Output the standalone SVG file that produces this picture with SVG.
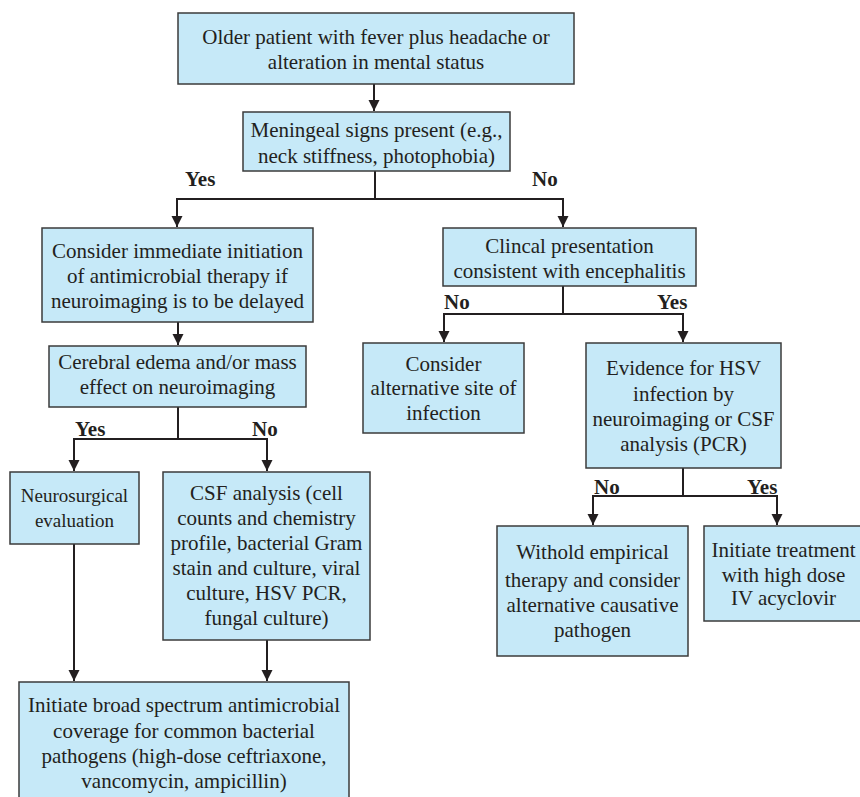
<svg xmlns="http://www.w3.org/2000/svg" width="860" height="797" viewBox="0 0 860 797">
<defs>
<marker id="ah" markerUnits="userSpaceOnUse" markerWidth="12" markerHeight="12" refX="11" refY="6" orient="auto">
<path d="M0,0.5 L11,6 L0,11.5 z" fill="#231f20"/>
</marker>
<style>
.box{fill:#c6e9f8;stroke:#3b3b3b;stroke-width:1.5}
.t{font-family:"Liberation Serif","Times New Roman",serif;font-size:21px;fill:#231f20;text-anchor:middle}
.s{font-size:19px}
.lbl{font-family:"Liberation Serif","Times New Roman",serif;font-size:21px;font-weight:bold;fill:#231f20}
.c{fill:none;stroke:#231f20;stroke-width:2}
</style>
</defs>
<rect width="860" height="797" fill="#ffffff"/>

<g id="connectors">
<path class="c" d="M374,84 V111" marker-end="url(#ah)"/>
<path class="c" d="M375,171 V199"/>
<path class="c" d="M177,199 H563"/>
<path class="c" d="M177,198 V227" marker-end="url(#ah)"/>
<path class="c" d="M563,198 V227" marker-end="url(#ah)"/>
<path class="c" d="M178,322 V345" marker-end="url(#ah)"/>
<path class="c" d="M178,407 V439"/>
<path class="c" d="M74,439 H267"/>
<path class="c" d="M74,438 V471" marker-end="url(#ah)"/>
<path class="c" d="M267,438 V471" marker-end="url(#ah)"/>
<path class="c" d="M74,544 V681" marker-end="url(#ah)"/>
<path class="c" d="M267,640 V681" marker-end="url(#ah)"/>
<path class="c" d="M563,286 V314"/>
<path class="c" d="M444,314 H683"/>
<path class="c" d="M444,313 V342" marker-end="url(#ah)"/>
<path class="c" d="M683,313 V342" marker-end="url(#ah)"/>
<path class="c" d="M683,468 V496"/>
<path class="c" d="M593,496 H777"/>
<path class="c" d="M593,495 V525" marker-end="url(#ah)"/>
<path class="c" d="M777,495 V525" marker-end="url(#ah)"/>
<text class="lbl" x="185" y="186">Yes</text>
<text class="lbl" x="532" y="186">No</text>
<text class="lbl" x="75" y="436">Yes</text>
<text class="lbl" x="252" y="436">No</text>
<text class="lbl" x="444" y="309">No</text>
<text class="lbl" x="657" y="309">Yes</text>
<text class="lbl" x="594" y="494">No</text>
<text class="lbl" x="747" y="494">Yes</text>
</g>

<g id="n1">
<rect class="box" x="178" y="13" width="396" height="71"/>
<text class="t" x="376" y="44">Older patient with fever plus headache or</text>
<text class="t" x="376" y="69">alteration in mental status</text>
</g>

<g id="n2">
<rect class="box" x="243" y="112" width="267" height="59"/>
<text class="t" x="376.5" y="137">Meningeal signs present (e.g.,</text>
<text class="t" x="376.5" y="163">neck stiffness, photophobia)</text>
</g>

<g id="n3">
<rect class="box" x="42" y="228" width="271" height="94"/>
<text class="t" x="177.5" y="258">Consider immediate initiation</text>
<text class="t" x="177.5" y="283">of antimicrobial therapy if</text>
<text class="t" x="177.5" y="308">neuroimaging is to be delayed</text>
</g>

<g id="n4">
<rect class="box" x="49" y="346" width="257" height="61"/>
<text class="t" x="177.5" y="369">Cerebral edema and/or mass</text>
<text class="t" x="177.5" y="394">effect on neuroimaging</text>
</g>

<g id="n5">
<rect class="box" x="443" y="228" width="253" height="58"/>
<text class="t" x="569.5" y="253">Clincal presentation</text>
<text class="t" x="569.5" y="278">consistent with encephalitis</text>
</g>

<g id="n6">
<rect class="box" x="363" y="343" width="161" height="90"/>
<text class="t" x="443.5" y="371">Consider</text>
<text class="t" x="443.5" y="395">alternative site of</text>
<text class="t" x="443.5" y="420">infection</text>
</g>

<g id="n7">
<rect class="box" x="586" y="343" width="195" height="125"/>
<text class="t" x="683.5" y="375">Evidence for HSV</text>
<text class="t" x="683.5" y="401">infection by</text>
<text class="t" x="683.5" y="426">neuroimaging or CSF</text>
<text class="t" x="683.5" y="451">analysis (PCR)</text>
</g>

<g id="n8">
<rect class="box" x="10" y="472" width="129" height="72"/>
<text class="t s" x="74.5" y="502">Neurosurgical</text>
<text class="t s" x="74.5" y="527">evaluation</text>
</g>

<g id="n9">
<rect class="box" x="163" y="472" width="207" height="168"/>
<text class="t" x="266.5" y="500">CSF analysis (cell</text>
<text class="t" x="266.5" y="525">counts and chemistry</text>
<text class="t" x="266.5" y="550">profile, bacterial Gram</text>
<text class="t" x="266.5" y="575">stain and culture, viral</text>
<text class="t" x="266.5" y="600">culture, HSV PCR,</text>
<text class="t" x="266.5" y="625">fungal culture)</text>
</g>

<g id="n10">
<rect class="box" x="19" y="682" width="330" height="125"/>
<text class="t" x="184" y="712">Initiate broad spectrum antimicrobial</text>
<text class="t" x="184" y="738">coverage for common bacterial</text>
<text class="t" x="184" y="763">pathogens (high-dose ceftriaxone,</text>
<text class="t" x="184" y="788">vancomycin, ampicillin)</text>
</g>

<g id="n11">
<rect class="box" x="497" y="526" width="191" height="130"/>
<text class="t" x="592.5" y="559">Withold empirical</text>
<text class="t" x="592.5" y="587">therapy and consider</text>
<text class="t" x="592.5" y="612">alternative causative</text>
<text class="t" x="592.5" y="637">pathogen</text>
</g>

<g id="n12">
<rect class="box" x="704" y="526" width="165" height="95"/>
<text class="t" x="783.5" y="557">Initiate treatment</text>
<text class="t" x="783.5" y="582">with high dose</text>
<text class="t" x="783.5" y="605">IV acyclovir</text>
</g>
</svg>
